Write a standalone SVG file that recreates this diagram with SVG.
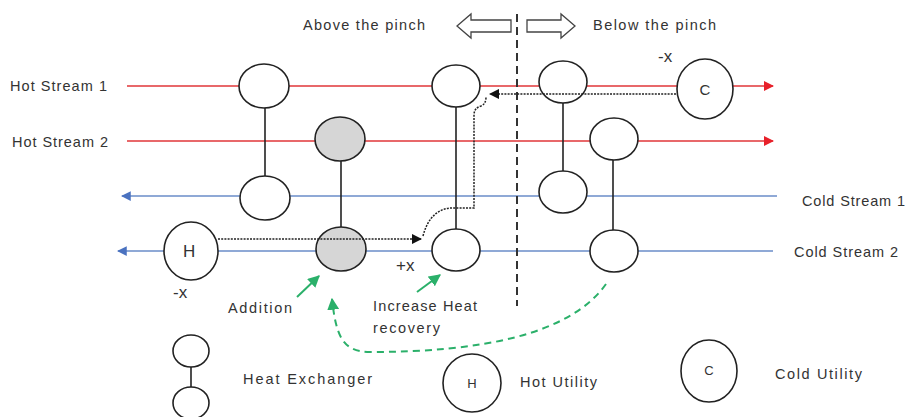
<svg xmlns="http://www.w3.org/2000/svg" width="907" height="417" viewBox="0 0 907 417">
  <defs>
    <style>
      text { font-family: "Liberation Sans", Arial, sans-serif; fill: #333; }
      .lbl { font-size: 14.5px; }
      .sign { font-size: 17px; }
      .hot { stroke: #e8686a; stroke-width: 2; fill: none; }
      .cold { stroke: #6a8cc8; stroke-width: 1.5; fill: none; }
      .hx { fill: #fff; stroke: #222; stroke-width: 1.6; }
      .hx.mod { fill: #d6d6d6; }
      .link { stroke: #222; stroke-width: 1.6; }
      .util { fill: #fff; stroke: #222; stroke-width: 1.6; }
      .loop { stroke: #222; stroke-width: 1.5; fill: none; stroke-dasharray: 2 1.2; }
      .green { stroke: #2bb06a; stroke-width: 2; fill: none; }
      .pinch { stroke: #333; stroke-width: 2; stroke-dasharray: 8 5; }
      .block { fill: #fff; stroke: #444; stroke-width: 1.3; }
    </style>
    <marker id="redHead" viewBox="0 0 10 10" refX="9" refY="5" markerWidth="5" markerHeight="5" orient="auto" markerUnits="strokeWidth">
      <path d="M0,0 L10,5 L0,10 z" fill="#e8202a"/>
    </marker>
    <marker id="blueHead" viewBox="0 0 10 10" refX="9" refY="5" markerWidth="6.5" markerHeight="6.5" orient="auto" markerUnits="strokeWidth">
      <path d="M0,0 L10,5 L0,10 z" fill="#4a72c0"/>
    </marker>
    <marker id="blackHead" viewBox="0 0 10 10" refX="9" refY="5" markerWidth="7" markerHeight="7" orient="auto" markerUnits="strokeWidth">
      <path d="M0,0 L10,5 L0,10 z" fill="#111"/>
    </marker>
    <marker id="greenHead" viewBox="0 0 10 10" refX="9" refY="5" markerWidth="6" markerHeight="6" orient="auto" markerUnits="strokeWidth">
      <path d="M0,0 L10,5 L0,10 z" fill="#2bb06a"/>
    </marker>
  </defs>

  <rect width="907" height="417" fill="#fff"/>

  <!-- process streams -->
  <g id="streams">
    <line class="hot" x1="127" y1="86" x2="773" y2="86" marker-end="url(#redHead)"/>
    <line class="hot" x1="127" y1="141" x2="773" y2="141" marker-end="url(#redHead)"/>
    <line class="cold" x1="777" y1="196" x2="122" y2="196" marker-end="url(#blueHead)"/>
    <line class="cold" x1="773" y1="251" x2="118" y2="251" marker-end="url(#blueHead)"/>
    <text class="lbl" x="10" y="91" textLength="97">Hot Stream 1</text>
    <text class="lbl" x="12" y="147" textLength="96">Hot Stream 2</text>
    <text class="lbl" x="802" y="206" textLength="103">Cold Stream 1</text>
    <text class="lbl" x="794" y="257" textLength="104">Cold Stream 2</text>
  </g>

  <!-- pinch divider and direction arrows -->
  <g id="pinch">
    <line class="pinch" x1="517" y1="14" x2="517" y2="306"/>
    <polygon class="block" points="457,26 471,14 471,20 511,20 511,32 471,32 471,38"/>
    <polygon class="block" points="575,26 561,14 561,20 527,20 527,32 561,32 561,38"/>
    <text class="lbl" x="303" y="30" textLength="122">Above the pinch</text>
    <text class="lbl" x="593" y="30" textLength="123">Below the pinch</text>
  </g>

  <!-- heat exchangers -->
  <g id="hx1">
    <line class="link" x1="265" y1="108" x2="265" y2="176"/>
    <ellipse class="hx" cx="264" cy="86" rx="25" ry="22"/>
    <ellipse class="hx" cx="265" cy="198" rx="25" ry="22"/>
  </g>
  <g id="hx2">
    <line class="link" x1="341" y1="160" x2="341" y2="228"/>
    <ellipse class="hx mod" cx="340" cy="139" rx="25" ry="22"/>
    <ellipse class="hx mod" cx="341" cy="249" rx="25" ry="22"/>
  </g>
  <g id="hx3">
    <line class="link" x1="456" y1="107" x2="456" y2="229"/>
    <ellipse class="hx" cx="456" cy="86" rx="24" ry="21"/>
    <ellipse class="hx" cx="456" cy="250" rx="24" ry="21"/>
  </g>
  <g id="hx4">
    <line class="link" x1="563" y1="103" x2="563" y2="171"/>
    <ellipse class="hx" cx="563" cy="82" rx="24" ry="21"/>
    <ellipse class="hx" cx="563" cy="192" rx="24" ry="21"/>
  </g>
  <g id="hx5">
    <line class="link" x1="613" y1="160" x2="613" y2="230"/>
    <ellipse class="hx" cx="614" cy="139" rx="24" ry="21"/>
    <ellipse class="hx" cx="614" cy="251" rx="24" ry="21"/>
  </g>

  <!-- utilities -->
  <g id="hot-utility">
    <ellipse class="util" cx="191" cy="251" rx="27" ry="29"/>
    <text x="183" y="257" font-size="17">H</text>
    <text class="sign" x="173" y="298">-x</text>
  </g>
  <g id="cold-utility">
    <ellipse class="util" cx="705" cy="89" rx="28" ry="30"/>
    <text x="705" y="95" font-size="15" text-anchor="middle">C</text>
    <text class="sign" x="658" y="62">-x</text>
  </g>

  <!-- heat load loop and annotations -->
  <g id="connectors">
    <line class="loop" x1="218" y1="239" x2="421" y2="239" marker-end="url(#blackHead)"/>
    <path class="loop" d="M423,236 C428,216 440,208 452,208 L474,208 L474,115 Q474,108 481,106 Q486,104 486,97"/>
    <line class="loop" x1="676" y1="94" x2="490" y2="94" marker-end="url(#blackHead)"/>
    <line class="green" x1="297" y1="297" x2="319" y2="276" marker-end="url(#greenHead)"/>
    <line class="green" x1="417" y1="292" x2="440" y2="275" marker-end="url(#greenHead)"/>
    <path class="green" d="M606,284 C570,335 480,352 370,352 C342,352 336,335 332,299" stroke-dasharray="7 5" marker-end="url(#greenHead)"/>
    <text class="sign" x="396" y="271">+x</text>
    <text class="lbl" x="228" y="313" textLength="64">Addition</text>
    <text class="lbl" x="373" y="311" textLength="104">Increase Heat</text>
    <text class="lbl" x="373" y="333" textLength="67">recovery</text>
  </g>

  <!-- legend -->
  <g id="legend-hx">
    <line class="link" x1="191" y1="367" x2="191" y2="388"/>
    <ellipse class="hx" cx="191" cy="351" rx="18" ry="16"/>
    <ellipse class="hx" cx="191" cy="403" rx="18" ry="16"/>
    <text class="lbl" x="243" y="384" textLength="129">Heat Exchanger</text>
  </g>
  <g id="legend-hot">
    <ellipse class="util" cx="472" cy="383" rx="29" ry="29"/>
    <text x="472" y="388" font-size="13" text-anchor="middle">H</text>
    <text class="lbl" x="520" y="387" textLength="77">Hot Utility</text>
  </g>
  <g id="legend-cold">
    <ellipse class="util" cx="709" cy="371" rx="28" ry="31"/>
    <text x="709" y="375" font-size="13" text-anchor="middle">C</text>
    <text class="lbl" x="775" y="379" textLength="87">Cold Utility</text>
  </g>
</svg>
